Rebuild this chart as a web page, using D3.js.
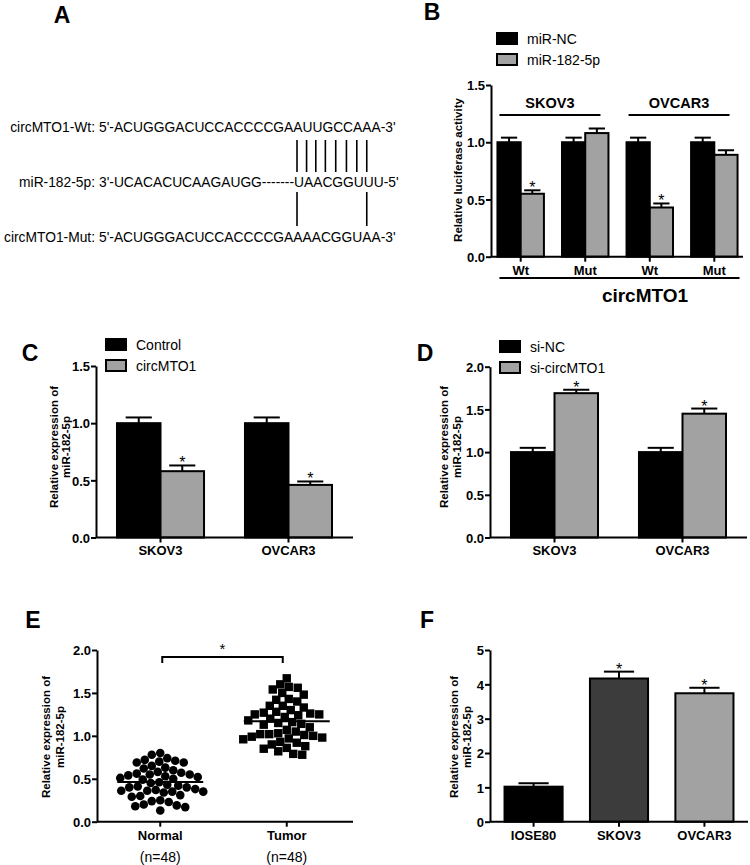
<!DOCTYPE html>
<html><head><meta charset="utf-8">
<script src="https://cdn.jsdelivr.net/npm/d3@7"></script>
<style>
body{margin:0;background:#fff}
svg text{font-family:Arial,"Liberation Sans",sans-serif;fill:#000}
</style>
</head><body>
<svg id="fig" width="750" height="865"></svg>
<script>
// ---------------- DATA ----------------
// Panel A
const seqLabels = ["circMTO1-Wt:", "miR-182-5p:", "circMTO1-Mut:"];
const seqStrings = ["5'-ACUGGGACUCCACCCCGAAUUGCCAAA-3'",
                    "3'-UCACACUCAAGAUGG-------UAACGGUUU-5'",
                    "5'-ACUGGGACUCCACCCCGAAAACGGUAA-3'"];
const wtPairIdx  = [25, 26, 27, 28, 29, 30, 31, 32];
const mutPairIdx = [25, 32];

// Panel B
const bGroups   = ["Wt", "Mut", "Wt", "Mut"];
const bCells    = ["SKOV3", "OVCAR3"];
const bSeries   = ["miR-NC", "miR-182-5p"];
const bNC       = [1.00, 1.00, 1.00, 1.00];
const bNCErr    = [0.04, 0.04, 0.04, 0.04];
const bMiR      = [0.55, 1.08, 0.43, 0.89];
const bMiRErr   = [0.03, 0.04, 0.035, 0.04];
const bMiRSig   = [true, false, true, false];
const bTicks    = [0.0, 0.5, 1.0, 1.5];

// Panel C
const cGroups   = ["SKOV3", "OVCAR3"];
const cSeries   = ["Control", "circMTO1"];
const cControl  = [1.00, 1.00];
const cControlErr = [0.05, 0.05];
const cCirc     = [0.58, 0.46];
const cCircErr  = [0.05, 0.03];
const cCircSig  = [true, true];
const cTicks    = [0.0, 0.5, 1.0, 1.5];

// Panel D
const dGroups   = ["SKOV3", "OVCAR3"];
const dSeries   = ["si-NC", "si-circMTO1"];
const dNC       = [1.00, 1.00];
const dNCErr    = [0.05, 0.05];
const dSi       = [1.69, 1.45];
const dSiErr    = [0.04, 0.06];
const dSiSig    = [true, true];
const dTicks    = [0.0, 0.5, 1.0, 1.5, 2.0];

// Panel E
const eGroups   = ["Normal", "Tumor"];
const eCounts   = ["(n=48)", "(n=48)"];
const eNormal = [0.80,0.78,0.74,0.72,0.71,0.70,0.69,0.69,
                 0.65,0.63,0.62,0.60,0.58,
                 0.57,0.56,0.55,0.55,0.54,0.53,
                 0.52,0.51,0.50,0.49,
                 0.46,0.45,0.43,0.42,0.41,0.40,0.40,
                 0.38,0.37,0.36,0.36,0.35,0.35,0.34,
                 0.31,0.30,0.29,
                 0.25,0.24,0.23,
                 0.20,0.19,0.18,0.17,
                 0.13];
const eTumor  = [1.67,1.60,1.57,1.56,1.54,1.50,1.48,1.43,1.42,1.40,
                 1.35,1.35,1.33,1.30,1.28,1.27,1.26,1.25,1.25,1.24,
                 1.22,1.20,1.18,1.16,1.15,1.14,1.13,1.10,1.07,1.05,
                 1.03,1.02,1.02,1.01,1.00,0.99,0.98,0.97,0.96,0.93,
                 0.92,0.90,0.88,0.86,0.85,0.82,0.79,0.78];
const eTicks  = [0.0, 0.5, 1.0, 1.5, 2.0];

// Panel F
const fGroups = ["IOSE80", "SKOV3", "OVCAR3"];
const fVals   = [1.02, 4.17, 3.74];
const fErr    = [0.10, 0.20, 0.16];
const fSig    = [false, true, true];
const fTicks  = [0, 1, 2, 3, 4, 5];

// ---------------- STYLE ----------------
const BLACK = "#000", GREY = "#a2a2a2", DARK = "#3c3c3c";
const svg = d3.select("#fig");

function text(x, y, s, size, weight, anchor) {
  return svg.append("text").attr("x", x).attr("y", y)
    .attr("font-size", size).attr("font-weight", weight || "normal")
    .attr("text-anchor", anchor || "start").text(s);
}
function panelLetter(x, y, s) { text(x, y, s, 23, "bold", "middle"); }

function yAxis(x0, y, ticks, fmt) {
  const ax = svg.append("g").attr("transform", `translate(${x0},0)`)
    .call(d3.axisLeft(y).tickValues(ticks).tickFormat(fmt).tickSize(5).tickSizeOuter(0));
  ax.select(".domain").attr("stroke", BLACK).attr("stroke-width", 2);
  ax.selectAll(".tick line").attr("stroke", BLACK).attr("stroke-width", 2);
  ax.selectAll(".tick text").attr("font-size", 13).attr("font-weight", "bold")
    .attr("fill", BLACK).attr("x", -6).attr("dy", "0.36em")
    .style("font-family", 'Arial,"Liberation Sans",sans-serif');
}
function yLabel(lines, xs, cy, size) {
  lines.forEach((s, i) => svg.append("text")
    .attr("transform", `translate(${xs[i]},${cy}) rotate(-90)`)
    .attr("text-anchor", "middle").attr("font-size", size).attr("font-weight", "bold").text(s));
}
function legend(x, y0, dy, names, colors) {
  names.forEach((n, i) => {
    svg.append("rect").attr("x", x).attr("y", y0 + i * dy).attr("width", 20).attr("height", 11)
      .attr("fill", colors[i]).attr("stroke", BLACK).attr("stroke-width", 2);
    text(x + 30, y0 + i * dy + 11, n, 14);
  });
}
function xAxisLine(x0, x1, y0, tickXs) {
  svg.append("line").attr("x1", x0).attr("x2", x1).attr("y1", y0).attr("y2", y0)
    .attr("stroke", BLACK).attr("stroke-width", 2);
  svg.append("g").selectAll("line").data(tickXs).join("line")
    .attr("x1", d => d).attr("x2", d => d).attr("y1", y0).attr("y2", y0 + 5)
    .attr("stroke", BLACK).attr("stroke-width", 2);
}

// generic grouped bar panel
function barPanel(o) {
  const xb = d3.scaleBand().domain(d3.range(o.nGroups)).range(o.xRange)
    .paddingInner(o.padIn).paddingOuter(o.padOut);
  const xs = d3.scaleBand().domain(d3.range(o.series.length)).range([0, xb.bandwidth()]);
  const y = o.y;
  yAxis(o.xRange[0], y, o.ticks, o.fmt);
  o.series.forEach((s, si) => {
    const g = svg.append("g");
    const cx = i => xb(i) + xs(si) + xs.bandwidth() / 2;
    const top = i => y(s.values[i] + s.errs[i]);
    const idx = d3.range(s.values.length);
    g.selectAll("line.e").data(idx).join("line")
      .attr("x1", cx).attr("x2", cx)
      .attr("y1", i => y(s.values[i])).attr("y2", top)
      .attr("stroke", BLACK).attr("stroke-width", 2);
    g.selectAll("line.c").data(idx).join("line")
      .attr("x1", i => cx(i) - xs.bandwidth() * o.cap / 2)
      .attr("x2", i => cx(i) + xs.bandwidth() * o.cap / 2)
      .attr("y1", top).attr("y2", top)
      .attr("stroke", BLACK).attr("stroke-width", 2);
    g.selectAll("rect").data(idx).join("rect")
      .attr("x", i => xb(i) + xs(si)).attr("y", i => y(s.values[i]))
      .attr("width", xs.bandwidth()).attr("height", i => y(0) - y(s.values[i]))
      .attr("fill", i => Array.isArray(s.color) ? s.color[i] : s.color)
      .attr("stroke", BLACK).attr("stroke-width", 2);
    if (s.sig) {
      g.selectAll("text").data(idx.filter(i => s.sig[i])).join("text")
        .attr("x", cx).attr("y", i => top(i) + 3)
        .attr("text-anchor", "middle").attr("font-size", 16).text("*");
    }
  });
  const centers = d3.range(o.nGroups).map(i => xb(i) + xb.bandwidth() / 2);
  xAxisLine(o.xRange[0], o.axisEnd, y(0), centers);
  o.labels.forEach((l, i) => text(centers[i], o.labelY, l, 13, "bold", "middle"));
  return {xb, centers};
}

// ---------------- PANEL A ----------------
panelLetter(62, 23, "A");
const seqY = [132, 187, 242];
seqLabels.forEach((l, i) => text(95, seqY[i], l, 13.8, "normal", "end"));
const seqNodes = seqStrings.map((s, i) => text(99, seqY[i], s, 13.8).node());
function charCenter(node, k) {
  const a = node.getStartPositionOfChar(k).x, b = node.getEndPositionOfChar(k).x;
  return (a + b) / 2 - 2;
}
svg.append("g").selectAll("line").data(wtPairIdx).join("line")
  .attr("x1", k => charCenter(seqNodes[1], k)).attr("x2", k => charCenter(seqNodes[1], k))
  .attr("y1", 140).attr("y2", 172).attr("stroke", BLACK).attr("stroke-width", 1.6);
svg.append("g").selectAll("line").data(mutPairIdx).join("line")
  .attr("x1", k => charCenter(seqNodes[1], k)).attr("x2", k => charCenter(seqNodes[1], k))
  .attr("y1", 192).attr("y2", 226).attr("stroke", BLACK).attr("stroke-width", 1.6);

// ---------------- PANEL B ----------------
panelLetter(432, 20, "B");
legend(497, 33, 21, bSeries, [BLACK, GREY]);
const yB = d3.scaleLinear().domain([0, 1.5]).range([256.7, 85]);
const pb = barPanel({
  nGroups: 4, xRange: [491, 744], padIn: 0.28, padOut: 0.1, axisEnd: 743,
  y: yB, ticks: bTicks, fmt: d3.format(".1f"), cap: 0.7,
  series: [{values: bNC, errs: bNCErr, color: BLACK},
           {values: bMiR, errs: bMiRErr, color: GREY, sig: bMiRSig}],
  labels: bGroups, labelY: 275
});
yLabel(["Relative luciferase activity"], [462], 170, 11.5);
bCells.forEach((c, k) => {
  const a = pb.xb(2 * k), b = pb.xb(2 * k + 1) + pb.xb.bandwidth();
  svg.append("line").attr("x1", a + 2).attr("x2", b - 8).attr("y1", 115).attr("y2", 115)
    .attr("stroke", BLACK).attr("stroke-width", 2);
  text((a + b) / 2 - 3, 108, c, 14.5, "bold", "middle");
});
{
  const a = pb.xb(0), b = pb.xb(3) + pb.xb.bandwidth();
  svg.append("line").attr("x1", a + 2).attr("x2", b + 2).attr("y1", 278).attr("y2", 278)
    .attr("stroke", BLACK).attr("stroke-width", 2);
  text(645, 302, "circMTO1", 19, "bold", "middle");
}

// ---------------- PANEL C ----------------
panelLetter(30, 361, "C");
legend(106, 339, 21, cSeries, [BLACK, GREY]);
const yC = d3.scaleLinear().domain([0, 1.5]).range([537.5, 366]);
barPanel({
  nGroups: 2, xRange: [96, 353], padIn: 0.32, padOut: 0.164, axisEnd: 353,
  y: yC, ticks: cTicks, fmt: d3.format(".1f"), cap: 0.6,
  series: [{values: cControl, errs: cControlErr, color: BLACK},
           {values: cCirc, errs: cCircErr, color: GREY, sig: cCircSig}],
  labels: cGroups, labelY: 555
});
yLabel(["Relative expression of", "miR-182-5p"], [58, 70], 447, 11.5);

// ---------------- PANEL D ----------------
panelLetter(425, 361, "D");
legend(500, 341, 21, dSeries, [BLACK, GREY]);
const yD = d3.scaleLinear().domain([0, 2]).range([537.5, 366.7]);
barPanel({
  nGroups: 2, xRange: [490, 747], padIn: 0.32, padOut: 0.164, axisEnd: 747,
  y: yD, ticks: dTicks, fmt: d3.format(".1f"), cap: 0.6,
  series: [{values: dNC, errs: dNCErr, color: BLACK},
           {values: dSi, errs: dSiErr, color: GREY, sig: dSiSig}],
  labels: dGroups, labelY: 555
});
yLabel(["Relative expression of", "miR-182-5p"], [448, 461], 447, 11.5);

// ---------------- PANEL E ----------------
panelLetter(33, 628, "E");
const yE = d3.scaleLinear().domain([0, 2]).range([821.7, 650]);
const xE = d3.scalePoint().domain(eGroups).range([97, 350]).padding(0.5);
yAxis(97, yE, eTicks, d3.format(".1f"));
yLabel(["Relative expression of", "miR-182-5p"], [50, 64], 737, 11.5);

function swarm(values, cx, y, diam) {
  const order = d3.range(values.length).sort((a, b) => values[b] - values[a]);
  const placed = [], out = new Array(values.length);
  for (const i of order) {
    const py = y(values[i]);
    for (let k = 0; k < 400; k++) {
      const dx = (k % 2 ? -1 : 1) * Math.ceil(k / 2) * 0.5;
      const px = cx + dx;
      if (placed.every(p => (p[0] - px) ** 2 + (p[1] - py) ** 2 >= diam * diam)) {
        placed.push([px, py]); out[i] = [px, py]; break;
      }
    }
  }
  return out;
}
const nPos = swarm(eNormal, xE("Normal"), yE, 8.4);
const tPos = swarm(eTumor, xE("Tumor"), yE, 8.8);
svg.append("g").selectAll("circle").data(nPos).join("circle")
  .attr("cx", d => d[0]).attr("cy", d => d[1]).attr("r", 4.3).attr("fill", BLACK);
svg.append("g").selectAll("rect").data(tPos).join("rect")
  .attr("x", d => d[0] - 4.2).attr("y", d => d[1] - 4.2).attr("width", 8.4).attr("height", 8.4).attr("fill", BLACK);
[[eNormal, "Normal"], [eTumor, "Tumor"]].forEach(([vals, g]) => {
  const m = d3.mean(vals);
  svg.append("line").attr("x1", xE(g) - 43).attr("x2", xE(g) + 43)
    .attr("y1", yE(m)).attr("y2", yE(m)).attr("stroke", BLACK).attr("stroke-width", 2);
});
xAxisLine(97, 353, yE(0), eGroups.map(g => xE(g)));
eGroups.forEach((g, i) => {
  text(xE(g), 840, g, 13, "bold", "middle");
  text(xE(g), 862, eCounts[i], 14, "normal", "middle");
});
{
  const a = xE("Normal") + 2, b = xE("Tumor") - 4;
  svg.append("path").attr("d", `M${a},663V657H${b}V663`).attr("fill", "none")
    .attr("stroke", BLACK).attr("stroke-width", 2);
  text((a + b) / 2, 654, "*", 15, "normal", "middle");
}

// ---------------- PANEL F ----------------
panelLetter(427, 628, "F");
const yF = d3.scaleLinear().domain([0, 5]).range([821.7, 650]);
barPanel({
  nGroups: 3, xRange: [490, 748], padIn: 0.32, padOut: 0.17, axisEnd: 748,
  y: yF, ticks: fTicks, fmt: d3.format("d"), cap: 0.52,
  series: [{values: fVals, errs: fErr, color: [BLACK, DARK, GREY], sig: fSig}],
  labels: fGroups, labelY: 840
});
yLabel(["Relative expression of", "miR-182-5p"], [458, 471], 737, 11.5);
</script>
</body></html>
